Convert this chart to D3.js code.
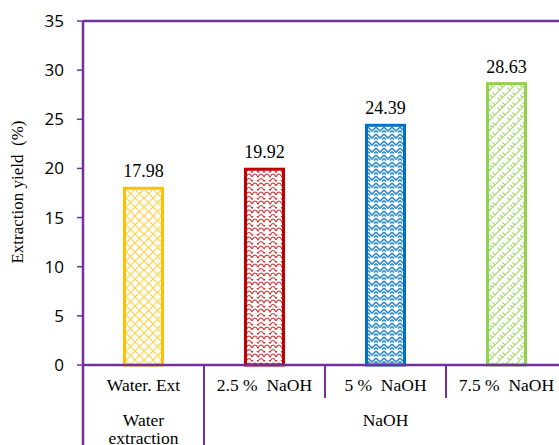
<!DOCTYPE html>
<meta charset="utf-8">
<script src="https://d3js.org/d3.v7.min.js"></script>
<style>
	body{ margin:0; background:#fff; }
	svg{ display:block; }
	.serif{ font-family:"Liberation Serif","Times New Roman",serif; white-space:pre; }
</style>
<div id="chart"></div>
<script>
var categories = ["Water. Ext","2.5 %  NaOH","5 %  NaOH","7.5 %  NaOH"]
var values = [17.98,19.92,24.39,28.63]
var groups = [{name:["Water","extraction"], from:0, to:1},{name:["NaOH"], from:1, to:4}]
var yTicks = [0,5,10,15,20,25,30,35]
var colors = ["#FFC000","#C00000","#0070C0","#92D050"]
var purple = "#7030A0"

var w = 559, h = 445
var padL = 83, padT = 21, base = 365
var bandW = 121

var svg = d3.select("#chart").append("svg").attr("width",w).attr("height",h)
var defs = svg.append("defs")

var x = d3.scaleBand().domain(categories).range([padL,padL+bandW*categories.length]).paddingInner(0).paddingOuter(0)
var y = d3.scaleLinear().domain([0,35]).range([base,padT])

// fill patterns
function pat(id,wd,ht){
	return defs.append("pattern").attr("id",id).attr("patternUnits","userSpaceOnUse")
		.attr("width",wd).attr("height",ht)
}
// lattice
var p0 = pat("p0",9,9)
p0.append("path").attr("d","M0,0L9,9M9,0L0,9").attr("stroke",colors[0]).attr("stroke-width",1.1).attr("fill","none").attr("opacity",.75)
// scales
var p1 = pat("p1",12,9)
p1.append("path").attr("d","M0,6 Q3,0 6,6 Q9,0 12,6 M-6,1.5 Q-3,-4.5 0,1.5 Q3,-4.5 6,1.5 M6,10.5 Q9,4.5 12,10.5 M6,1.5 Q9,-4.5 12,1.5")
	.attr("stroke",colors[1]).attr("stroke-width",1.1).attr("fill","none").attr("opacity",.8)
// zigzag
var p2 = pat("p2",8,7)
p2.append("path").attr("d","M0,1 L4,5 L8,1 M0,4.5 L2,6.5 M6,6.5 L8,4.5").attr("stroke",colors[2]).attr("stroke-width",1.6).attr("fill","none").attr("opacity",.8)
// diagonal bricks
var p3 = pat("p3",10,10)
p3.append("path").attr("d","M0,10L10,0M-5,5L5,-5M5,15L15,5M2.5,2.5L5,5M7.5,7.5L10,10M0,5L2.5,7.5")
	.attr("stroke",colors[3]).attr("stroke-width",1.1).attr("fill","none").attr("opacity",.85)

// axis lines
svg.append("line").attr("x1",padL).attr("x2",w).attr("y1",padT).attr("y2",padT).attr("stroke",purple).attr("stroke-width",2.5)
svg.append("line").attr("x1",padL).attr("x2",padL).attr("y1",padT).attr("y2",h).attr("stroke",purple).attr("stroke-width",2.5)

// y ticks
svg.selectAll(".ytick").data(yTicks).join("line").attr("class","ytick")
	.attr("x1",padL-6).attr("x2",padL).attr("y1",d=>y(d)).attr("y2",d=>y(d))
	.attr("stroke",purple).attr("stroke-width",1.5)
svg.selectAll(".ylab").data(yTicks).join("text").attr("class","ylab")
	.attr("x",padL-19).attr("y",d=>y(d)+6).attr("text-anchor","end")
	.style("font-family","'Open Sans', sans-serif").style("font-size","17px").attr("fill","#000")
	.text(d=>d)

svg.append("text").attr("class","serif").attr("transform","translate(23,192) rotate(-90)")
	.attr("text-anchor","middle").style("font-size","17px")
	.text("Extraction yield  (%)")

// bars
var barW = 38
svg.selectAll(".bar").data(values).join("rect").attr("class","bar")
	.attr("x",(d,i)=>x(categories[i])+x.bandwidth()/2-barW/2)
	.attr("y",d=>y(d))
	.attr("width",barW).attr("height",d=>base-y(d))
	.attr("fill",(d,i)=>"url(#p"+i+")")
	.attr("stroke",(d,i)=>colors[i]).attr("stroke-width",3)

svg.selectAll(".val").data(values).join("text").attr("class","val serif")
	.attr("x",(d,i)=>x(categories[i])+x.bandwidth()/2)
	.attr("y",d=>y(d)-11).attr("text-anchor","middle")
	.style("font-size","18px").attr("fill","#000")
	.text(d=>d.toFixed(2))

// bottom axis
svg.append("line").attr("x1",padL).attr("x2",w).attr("y1",base).attr("y2",base).attr("stroke",purple).attr("stroke-width",2.5)
categories.forEach(function(c,i){
	if(i==0) return
	var gStart = groups.some(g=>g.from==i)
	svg.append("line").attr("x1",x(c)).attr("x2",x(c)).attr("y1",base).attr("y2",gStart?h:398)
		.attr("stroke",purple).attr("stroke-width",2)
})
svg.selectAll(".xlab").data(categories).join("text").attr("class","xlab serif")
	.attr("x",d=>x(d)+x.bandwidth()/2).attr("y",base+26).attr("text-anchor","middle")
	.style("font-size","17.5px")
	.text(d=>d)

groups.forEach(function(g){
	var cx = (x(categories[g.from]) + x(categories[g.to-1])+x.bandwidth())/2
	g.name.forEach(function(n,k){
		svg.append("text").attr("class","serif").attr("x",cx).attr("y",base+61+k*18).attr("text-anchor","middle")
			.style("font-size","17.5px").text(n)
	})
})
</script>
